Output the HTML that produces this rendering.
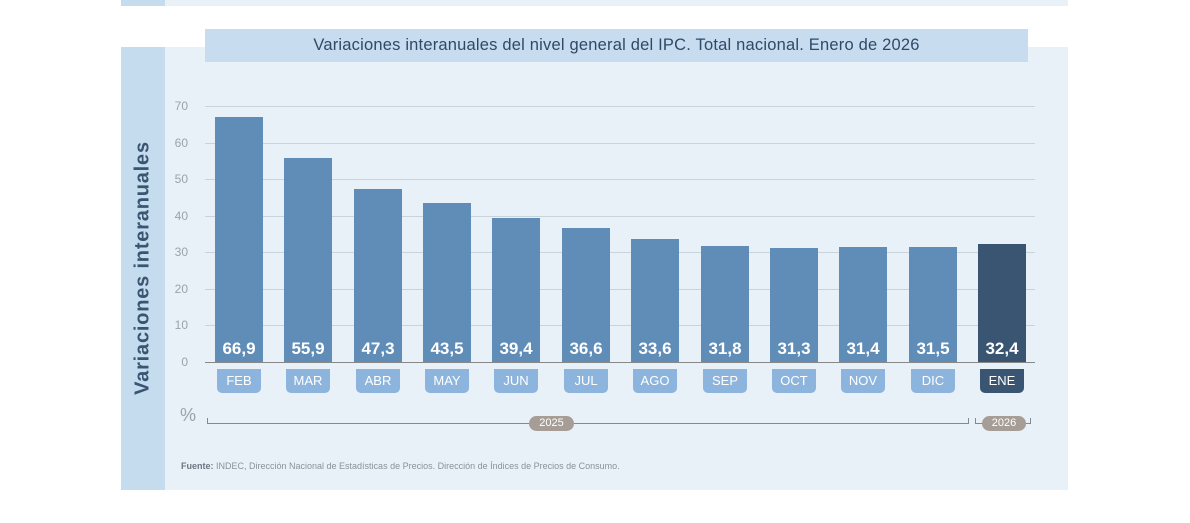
<!DOCTYPE html>
<html><head><meta charset="utf-8"><style>
body{margin:0;width:1190px;height:523px;background:#fff;position:relative;overflow:hidden;font-family:"Liberation Sans",sans-serif}
.a{position:absolute}
.bar{position:absolute;width:48px;background:#5f8db8}
.v{position:absolute;width:48px;text-align:center;color:#fff;font-weight:bold;font-size:17px;top:339px}
.p{position:absolute;top:369px;width:44px;height:24px;background:#8cb4dc;border-radius:0 0 5px 5px;color:#fff;font-size:13px;text-align:center;line-height:24px;font-family:"Liberation Sans Narrow","Liberation Sans",sans-serif}
.g{position:absolute;left:205px;width:830px;height:1px;background:#c9d3dc}
.t{position:absolute;left:158px;width:30px;text-align:right;color:#9aa3ab;font-size:12px}
</style></head><body>
<div class="a" style="left:121px;top:0;width:947px;height:6px;background:#e8f0f8"></div>
<div class="a" style="left:121px;top:0;width:44px;height:6px;background:#c5dcee"></div>
<div class="a" style="left:121px;top:47px;width:947px;height:443px;background:#e8f0f8"></div>
<div class="a" style="left:121px;top:47px;width:44px;height:443px;background:#c5dcee"></div>
<div class="a" style="left:205px;top:29px;width:823px;height:33px;background:#c7dcef;color:#2f4a66;font-size:16.5px;letter-spacing:0.2px;text-align:center;line-height:33px">Variaciones interanuales del nivel general del IPC. Total nacional. Enero de 2026</div>
<div class="a" style="left:143px;top:268px;transform:translate(-50%,-50%) rotate(-90deg);white-space:nowrap;color:#3a5572;font-weight:bold;font-size:20px;letter-spacing:0.8px">Variaciones interanuales</div>
<div class="g" style="top:106px"></div><div class="g" style="top:143px"></div><div class="g" style="top:179px"></div><div class="g" style="top:216px"></div><div class="g" style="top:252px"></div><div class="g" style="top:289px"></div><div class="g" style="top:325px"></div>
<div class="a" style="left:205px;top:362px;width:830px;height:1px;background:#888"></div>
<div class="t" style="top:99px">70</div><div class="t" style="top:136px">60</div><div class="t" style="top:172px">50</div><div class="t" style="top:209px">40</div><div class="t" style="top:245px">30</div><div class="t" style="top:282px">20</div><div class="t" style="top:318px">10</div><div class="t" style="top:355px">0</div>
<div id="bars"></div>
<div class="a" style="left:180px;top:405px;color:#9aa3ab;font-size:18px">%</div>
<div class="a" style="left:207px;top:423px;width:761px;height:1px;background:#888"></div>
<div class="a" style="left:207px;top:418px;width:1px;height:6px;background:#888"></div>
<div class="a" style="left:968px;top:418px;width:1px;height:6px;background:#888"></div>
<div class="a" style="left:975px;top:423px;width:55px;height:1px;background:#888"></div>
<div class="a" style="left:975px;top:418px;width:1px;height:6px;background:#888"></div>
<div class="a" style="left:1030px;top:418px;width:1px;height:6px;background:#888"></div>
<div class="a" style="left:529px;top:416px;width:45px;height:15px;background:#a59d96;border-radius:8px;color:#fff;font-size:11px;text-align:center;line-height:15px">2025</div>
<div class="a" style="left:982px;top:416px;width:44px;height:15px;background:#a59d96;border-radius:8px;color:#fff;font-size:11px;text-align:center;line-height:15px">2026</div>
<div class="a" style="left:181px;top:461px;color:#8a9299;font-size:9px"><b style="color:#6d7680">Fuente:</b> INDEC, Dirección Nacional de Estadísticas de Precios. Dirección de Índices de Precios de Consumo.</div>
<script>
var d=[["FEB",66.9],["MAR",55.9],["ABR",47.3],["MAY",43.5],["JUN",39.4],["JUL",36.6],["AGO",33.6],["SEP",31.8],["OCT",31.3],["NOV",31.4],["DIC",31.5],["ENE",32.4]];
var h="";d.forEach(function(e,i){var x=Math.round(215+i*69.36),H=e[1]*3.657,last=i==11;
h+='<div class="bar" style="left:'+x+'px;top:'+(362-H)+'px;height:'+H+'px;'+(last?'background:#3a5572':'')+'"></div>';
h+='<div class="v" style="left:'+x+'px">'+e[1].toFixed(1).replace(".",",")+'</div>';
h+='<div class="p" style="left:'+(x+2)+'px;'+(last?'background:#3a5572':'')+'">'+e[0]+'</div>';});
document.getElementById("bars").innerHTML=h;
</script>
</body></html>
